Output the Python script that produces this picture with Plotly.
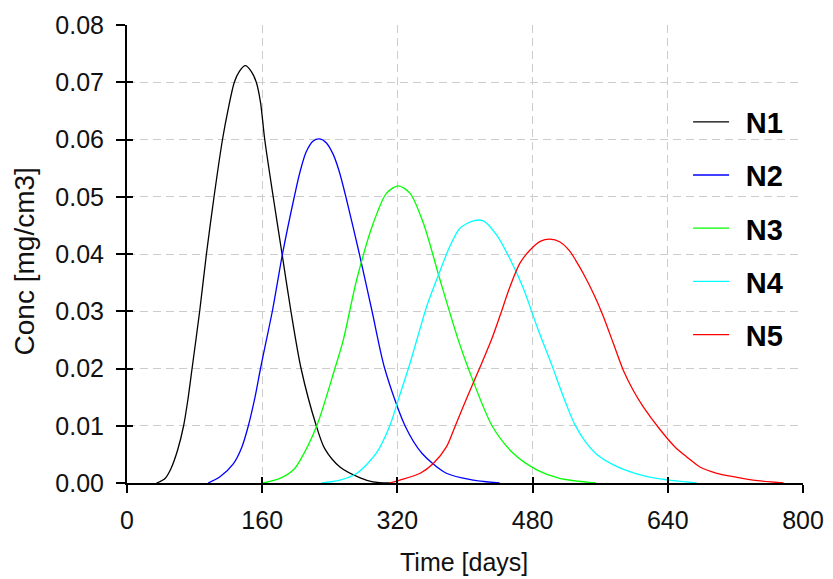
import plotly.graph_objects as go

# ---- data ----
x_ticks = [0, 160, 320, 480, 640, 800]
y_ticks = [0.00, 0.01, 0.02, 0.03, 0.04, 0.05, 0.06, 0.07, 0.08]

n1_t = [35, 45, 52, 60, 67, 72, 77, 86, 94, 103, 113, 120, 127, 133, 140, 147, 153, 158,
        163, 173, 183.5, 194, 206, 224, 234, 252, 276, 291, 311]
n1_c = [0, 0.0008, 0.0025, 0.0058, 0.01, 0.0145, 0.02, 0.03, 0.04, 0.05, 0.06, 0.0655, 0.07,
        0.0719, 0.0729, 0.0719, 0.07, 0.0665, 0.06, 0.05, 0.04, 0.03, 0.02, 0.01, 0.006,
        0.0028, 0.0009, 0.0002, 0]

n2_t = [96, 110, 126, 136, 143.6, 151.5, 158, 165, 172, 178, 184, 198, 205, 212, 220, 228,
        236, 244, 251, 259, 275, 290, 305, 329, 349, 378, 410, 441]
n2_c = [0, 0.0011, 0.0034, 0.0063, 0.01, 0.015, 0.02, 0.025, 0.03, 0.035, 0.04, 0.05, 0.0545,
        0.0578, 0.0597, 0.0601, 0.0594, 0.0574, 0.0545, 0.05, 0.04, 0.03, 0.02, 0.01, 0.0052,
        0.0017, 0.0005, 0]

n3_t = [161, 181, 197, 205, 224.6, 246, 256, 271.8, 291.5, 307, 321, 335, 350.7, 370.4, 392,
        404, 432, 457, 485, 512, 555]
n3_c = [0, 0.0008, 0.0023, 0.004, 0.01, 0.02, 0.025, 0.0355, 0.0454, 0.0506, 0.0519, 0.0506,
        0.0454, 0.0355, 0.025, 0.02, 0.01, 0.0052, 0.0023, 0.0008, 0]

n4_t = [230, 252, 272, 295, 311, 322, 333, 344, 355, 369, 382, 394, 410, 421.7, 437.5, 453,
        469, 486, 503, 512, 521, 530, 543, 556, 575, 603, 627, 674]
n4_c = [0, 0.0005, 0.0017, 0.0052, 0.01, 0.015, 0.02, 0.0255, 0.031, 0.0365, 0.0413, 0.0445,
        0.0458, 0.0458, 0.0433, 0.0392, 0.034, 0.027, 0.0205, 0.0168, 0.0133, 0.0102, 0.0071,
        0.005, 0.0032, 0.0016, 0.0008, 0]

n5_t = [311, 323, 347, 362.5, 378, 388, 402, 418, 431.5, 441.4, 453, 465, 477, 489, 500.6,
        512.4, 524, 531, 540, 552, 563.7, 575.5, 587.3, 599, 611, 631, 648.5, 662, 678, 698,
        717.5, 741, 777]
n5_c = [0, 0.0005, 0.0017, 0.0034, 0.0063, 0.0098, 0.0148, 0.0203, 0.0251, 0.0292, 0.0342,
        0.0384, 0.0407, 0.0422, 0.0426, 0.0421, 0.0405, 0.0389, 0.0366, 0.0331, 0.0291,
        0.0244, 0.0197, 0.0162, 0.0133, 0.0093, 0.0063, 0.0046, 0.0028, 0.0017, 0.0011,
        0.0005, 0]

series_names = ["N1", "N2", "N3", "N4", "N5"]
series_t = [n1_t, n2_t, n3_t, n4_t, n5_t]
series_c = [n1_c, n2_c, n3_c, n4_c, n5_c]
series_colors = ["#000000", "#0000ff", "#00ff00", "#00ffff", "#ff0000"]

FONT = "Liberation Sans, Arial, sans-serif"
GAP = "\u2009\u2009"  # small gap between legend sample and label

fig = go.Figure()
for name, t, c, col in zip(series_names, series_t, series_c, series_colors):
    fig.add_trace(go.Scatter(x=t, y=c, mode="lines", name=GAP + name, legendgroup=name,
                             line=dict(color=col, width=1.3, shape="spline", smoothing=0.8)))

# invisible trace for overlay axes (inner half of crossing ticks)
fig.add_trace(go.Scatter(x=[None], y=[None], xaxis="x2", yaxis="y2",
                         showlegend=False, hoverinfo="skip"))

grid = dict(showgrid=True, gridcolor="#cccccc", gridwidth=1, griddash="8px,5px")

fig.update_layout(
    width=833, height=579,
    margin=dict(l=127, r=30, t=25, b=96, autoexpand=False),
    paper_bgcolor="white", plot_bgcolor="white",
    font=dict(family=FONT, size=25, color="#111111"),
    showlegend=True,
    legend=dict(x=0.830, y=0.844, xanchor="left", yanchor="top",
                font=dict(family=FONT, size=29, color="#000000", weight="bold"),
                bgcolor="rgba(0,0,0,0)", tracegroupgap=12.5, itemwidth=36),
    xaxis=dict(range=[0, 800], tickmode="array", tickvals=x_ticks,
               ticktext=[str(v) for v in x_ticks], automargin=False,
               showline=True, linecolor="black", linewidth=2,
               ticks="outside", ticklen=8, tickwidth=2, tickcolor="black",
               ticklabelstandoff=6,
               zeroline=False, tickfont=dict(size=25), **grid),
    yaxis=dict(range=[0, 0.08], tickmode="array", tickvals=y_ticks,
               ticktext=[f"{v:.2f}" for v in y_ticks], automargin=False,
               showline=True, linecolor="black", linewidth=2,
               ticks="outside", ticklen=9, tickwidth=2, tickcolor="black",
               ticklabelstandoff=7,
               zeroline=False, tickfont=dict(size=25), **grid),
    xaxis2=dict(range=[0, 800], overlaying="x", anchor="y2", side="bottom",
                tickmode="array", tickvals=x_ticks, ticks="inside", ticklen=6,
                tickwidth=2, tickcolor="black", showticklabels=False, automargin=False,
                showgrid=False, showline=False, zeroline=False),
    yaxis2=dict(range=[0, 0.08], overlaying="y", anchor="x2", side="left",
                tickmode="array", tickvals=y_ticks, ticks="inside", ticklen=6,
                tickwidth=2, tickcolor="black", showticklabels=False, automargin=False,
                showgrid=False, showline=False, zeroline=False),
    annotations=[
        dict(text="Time [days]", xref="paper", yref="paper", x=0.4985, y=-0.1725,
             xanchor="center", yanchor="middle", showarrow=False,
             font=dict(size=25, family=FONT, color="#111111")),
        dict(text="Conc [mg/cm3]", xref="paper", yref="paper", x=-0.151, y=0.4836,
             xanchor="center", yanchor="middle", showarrow=False, textangle=-90,
             font=dict(size=28, family=FONT, color="#111111")),
    ],
)

fig.write_html("out.html",
               config={"displayModeBar": False},
               post_script="document.body.style.margin='0px';document.body.style.overflow='hidden';")
